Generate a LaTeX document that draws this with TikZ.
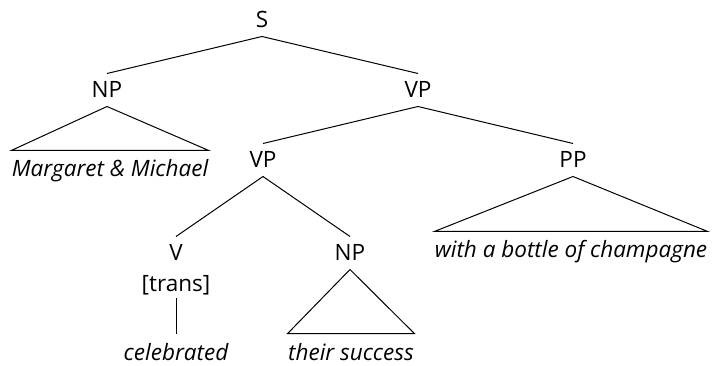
\documentclass[tikz,border=0pt]{standalone}
\usepackage{fontspec}
\setmainfont{Open Sans}

\begin{document}
\begin{tikzpicture}[x=1pt, y=-1pt, line width=1pt,
    cat/.style={inner xsep=0pt, inner ysep=8pt, text height=16pt, text depth=0pt, font=\fontsize{22.5}{26}\selectfont},
    feat/.style={inner xsep=0pt, inner ysep=7pt, text height=16pt, text depth=0pt, font=\fontsize{22.5}{26}\selectfont},
    leaf/.style={anchor=base, inner xsep=0pt, inner ysep=10pt, text height=16pt, text depth=5pt, font=\fontsize{22.5}{26}\selectfont\itshape}]
    \useasboundingbox (0,0) rectangle (718,366);

    % 範疇ラベル
    \node[cat] (s) at (262,20) {S};
    \node[cat] (np) at (107,90) {NP};
    \node[cat] (vp) at (418,90) {VP};
    \node[cat] (vpb) at (263,160) {VP};
    \node[cat] (pp) at (573,160) {PP};
    \node[cat] (v) at (176,253) {V};
    \node[cat] (npb) at (350,253) {NP};
    \node[feat] (trans) at (176,283) {[trans]};

    % 語彙
    \node[leaf] (mm) at (110,177) {Margaret \& Michael};
    \node[leaf] (champ) at (571,258) {with a bottle of champagne};
    \node[leaf] (cel) at (176,360) {celebrated};
    \node[leaf] (succ) at (351,360) {their success};

    % 枝
    \draw (s.south) -- (np.north);
    \draw (s.south) -- (vp.north);
    \draw (vp.south) -- (vpb.north);
    \draw (vp.south) -- (pp.north);
    \draw (vpb.south) -- (v.north);
    \draw (vpb.south) -- (npb.north);
    \draw (trans.south) -- (cel.north);

    % 三角形（省略された構造）
    \draw (np.south) -- (mm.north west) -- (mm.north east) -- cycle;
    \draw (pp.south) -- (champ.north west) -- (champ.north east) -- cycle;
    \draw (npb.south) -- (succ.north west) -- (succ.north east) -- cycle;
\end{tikzpicture}
\end{document}
